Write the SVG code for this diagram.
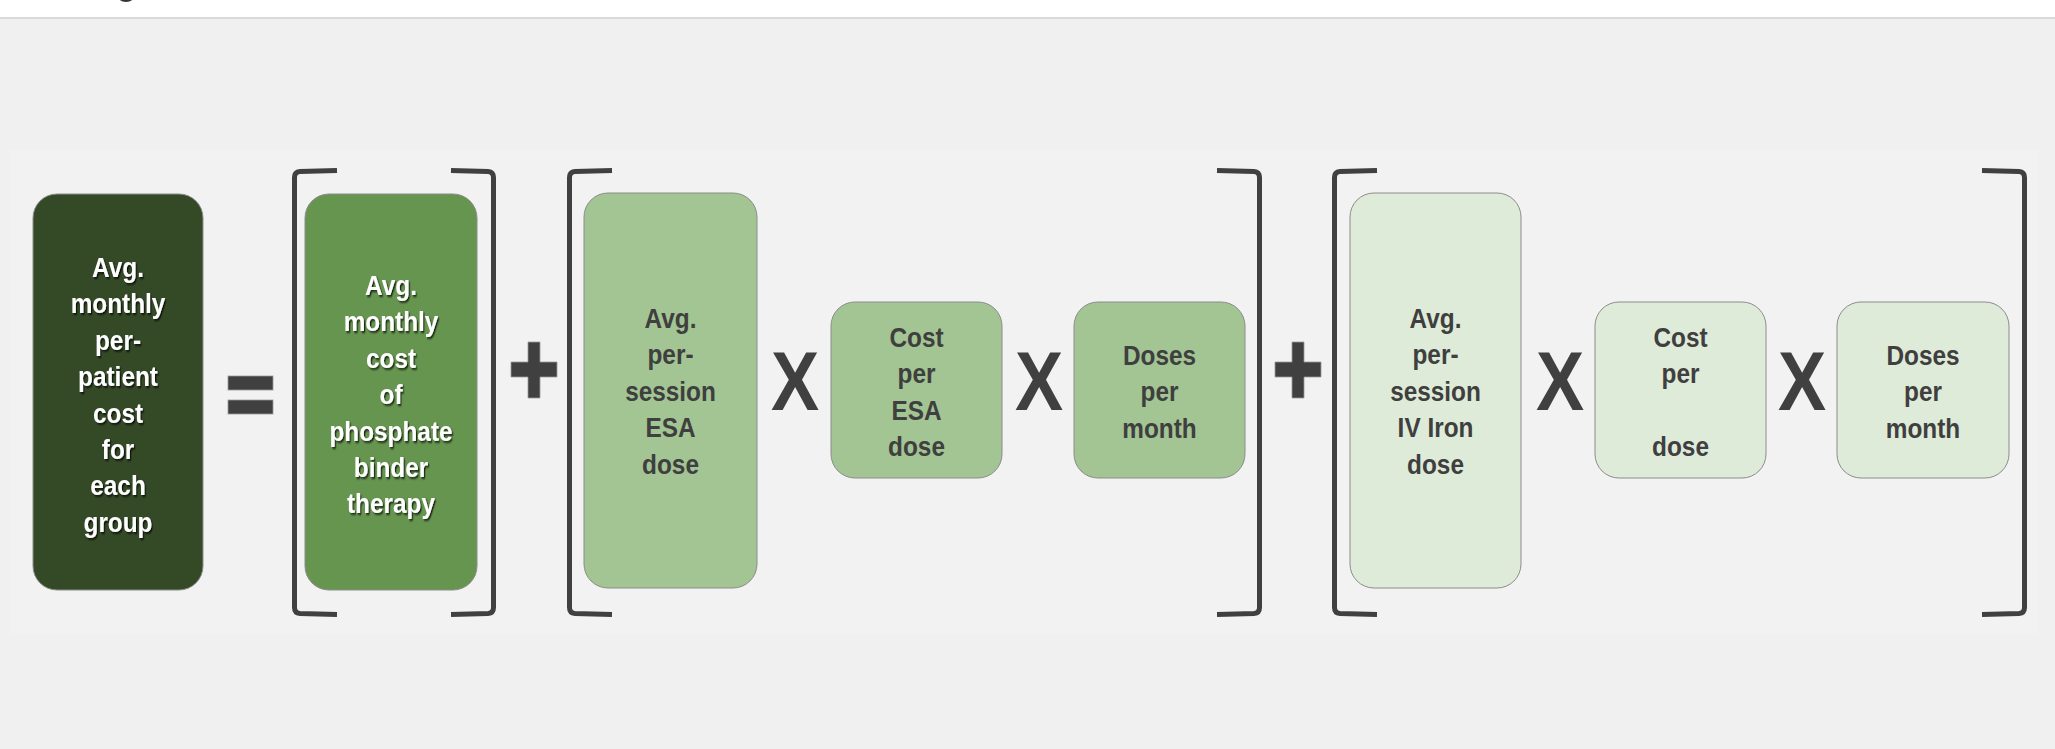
<svg xmlns="http://www.w3.org/2000/svg" width="2055" height="749" viewBox="0 0 2055 749">
<defs>
<filter id="sh" x="-20%" y="-20%" width="140%" height="140%">
<feDropShadow dx="1.5" dy="1.8" stdDeviation="0.8" flood-color="#000" flood-opacity="0.75"/>
</filter>
<style>
.node rect{stroke:#8c8c8c;stroke-width:1}
.t{font-family:"Liberation Sans",Arial,sans-serif;font-weight:bold;font-size:28px;text-anchor:middle}
.w{fill:#ffffff}
.g{fill:#3f3f3f}
.br{fill:none;stroke:#404040;stroke-width:5;stroke-linecap:butt;stroke-linejoin:round}
.op{fill:#404040;stroke:#9a9a9a;stroke-width:0.8}
.x{font-family:"Liberation Sans",Arial,sans-serif;font-weight:bold;font-size:84px;text-anchor:middle;fill:#404040}
</style>
</defs>
<rect x="0" y="0" width="2055" height="749" fill="#f0f0f0"/>
<rect x="0" y="0" width="2055" height="17" fill="#ffffff"/>
<rect x="0" y="17" width="2055" height="2" fill="#d9d9d9"/>
<circle cx="126" cy="-9" r="11" fill="#333333"/>
<rect x="10" y="150" width="2028" height="483" fill="#f2f2f2"/>

<g id="connectors">
<path class="br" d="M337 170.5 L300 171.5 Q294.5 172 294.5 177.5 L294.5 607.5 Q294.5 613 300 613.5 L337 614.5"/>
<path class="br" d="M451 170.5 L488 171.5 Q493.5 172 493.5 177.5 L493.5 607.5 Q493.5 613 488 613.5 L451 614.5"/>
<path class="br" d="M612 170.5 L575 171.5 Q569.5 172 569.5 177.5 L569.5 607.5 Q569.5 613 575 613.5 L612 614.5"/>
<path class="br" d="M1217 170.5 L1254 171.5 Q1259.5 172 1259.5 177.5 L1259.5 607.5 Q1259.5 613 1254 613.5 L1217 614.5"/>
<path class="br" d="M1377 170.5 L1340 171.5 Q1334.5 172 1334.5 177.5 L1334.5 607.5 Q1334.5 613 1340 613.5 L1377 614.5"/>
<path class="br" d="M1982 170.5 L2019 171.5 Q2024.5 172 2024.5 177.5 L2024.5 607.5 Q2024.5 613 2019 613.5 L1982 614.5"/>
<rect class="op" x="228" y="376" width="45" height="14"/>
<rect class="op" x="228" y="400" width="45" height="14"/>
<path class="op" d="M528 342 H540 V362 H557 V377 H540 V398 H528 V377 H511 V362 H528 Z"/>
<path class="op" d="M1292 342 H1304 V362 H1321 V377 H1304 V398 H1292 V377 H1275 V362 H1292 Z"/>
<g transform="translate(795,0) scale(0.86,1)"><text class="x" x="0" y="410">X</text></g>
<g transform="translate(1039,0) scale(0.86,1)"><text class="x" x="0" y="410">X</text></g>
<g transform="translate(1560,0) scale(0.86,1)"><text class="x" x="0" y="410">X</text></g>
<g transform="translate(1802,0) scale(0.86,1)"><text class="x" x="0" y="410">X</text></g>
</g>

<g id="n1" class="node">
<rect x="33" y="194" width="170" height="396" rx="24" fill="#344a27"/>
<g transform="translate(118,0) scale(0.87,1)" filter="url(#sh)">
<text class="t w" x="0" y="277">Avg.</text>
<text class="t w" x="0" y="313.4">monthly</text>
<text class="t w" x="0" y="349.8">per-</text>
<text class="t w" x="0" y="386.2">patient</text>
<text class="t w" x="0" y="422.6">cost</text>
<text class="t w" x="0" y="459">for</text>
<text class="t w" x="0" y="495.4">each</text>
<text class="t w" x="0" y="531.8">group</text>
</g>
</g>

<g id="n2" class="node">
<rect x="305" y="194" width="172" height="396" rx="24" fill="#66954f"/>
<g transform="translate(391,0) scale(0.87,1)" filter="url(#sh)">
<text class="t w" x="0" y="295">Avg.</text>
<text class="t w" x="0" y="331.4">monthly</text>
<text class="t w" x="0" y="367.8">cost</text>
<text class="t w" x="0" y="404.2">of</text>
<text class="t w" x="0" y="440.6">phosphate</text>
<text class="t w" x="0" y="477">binder</text>
<text class="t w" x="0" y="513.4">therapy</text>
</g>
</g>

<g id="n3" class="node">
<rect x="584" y="193" width="173" height="395" rx="24" fill="#a2c593"/>
<g transform="translate(670.5,0) scale(0.87,1)">
<text class="t g" x="0" y="328">Avg.</text>
<text class="t g" x="0" y="364.4">per-</text>
<text class="t g" x="0" y="400.8">session</text>
<text class="t g" x="0" y="437.2">ESA</text>
<text class="t g" x="0" y="473.6">dose</text>
</g>
</g>

<g id="n4" class="node">
<rect x="831" y="302" width="171" height="176" rx="24" fill="#a2c593"/>
<g transform="translate(916.5,0) scale(0.87,1)">
<text class="t g" x="0" y="347">Cost</text>
<text class="t g" x="0" y="383.4">per</text>
<text class="t g" x="0" y="419.8">ESA</text>
<text class="t g" x="0" y="456.2">dose</text>
</g>
</g>

<g id="n5" class="node">
<rect x="1074" y="302" width="171" height="176" rx="24" fill="#a2c593"/>
<g transform="translate(1159.5,0) scale(0.87,1)">
<text class="t g" x="0" y="365">Doses</text>
<text class="t g" x="0" y="401.4">per</text>
<text class="t g" x="0" y="437.8">month</text>
</g>
</g>

<g id="n6" class="node">
<rect x="1350" y="193" width="171" height="395" rx="24" fill="#dfebd9"/>
<g transform="translate(1435.5,0) scale(0.87,1)">
<text class="t g" x="0" y="328">Avg.</text>
<text class="t g" x="0" y="364.4">per-</text>
<text class="t g" x="0" y="400.8">session</text>
<text class="t g" x="0" y="437.2">IV Iron</text>
<text class="t g" x="0" y="473.6">dose</text>
</g>
</g>

<g id="n7" class="node">
<rect x="1595" y="302" width="171" height="176" rx="24" fill="#dfebd9"/>
<g transform="translate(1680.5,0) scale(0.87,1)">
<text class="t g" x="0" y="347">Cost</text>
<text class="t g" x="0" y="383.4">per</text>
<text class="t g" x="0" y="456.2">dose</text>
</g>
</g>

<g id="n8" class="node">
<rect x="1837" y="302" width="172" height="176" rx="24" fill="#dfebd9"/>
<g transform="translate(1923,0) scale(0.87,1)">
<text class="t g" x="0" y="365">Doses</text>
<text class="t g" x="0" y="401.4">per</text>
<text class="t g" x="0" y="437.8">month</text>
</g>
</g>
</svg>
